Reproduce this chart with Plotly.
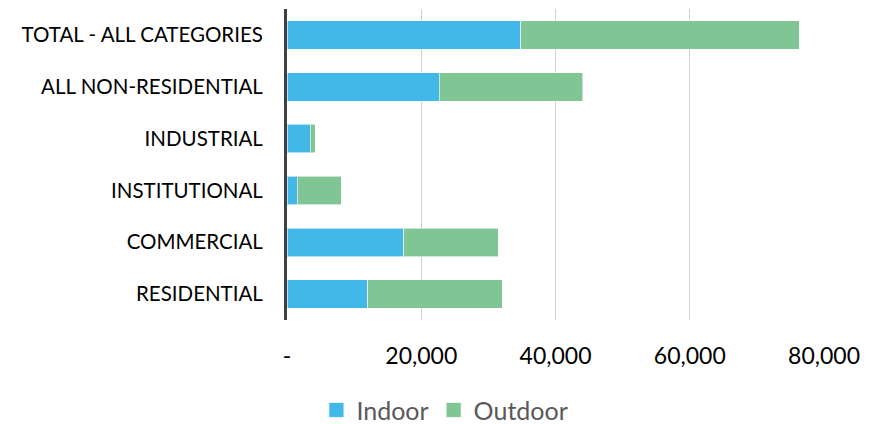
import plotly.graph_objects as go

# Water use by sector, split into indoor and outdoor
categories = [
    "RESIDENTIAL",
    "COMMERCIAL",
    "INSTITUTIONAL",
    "INDUSTRIAL",
    "ALL NON-RESIDENTIAL",
    "TOTAL - ALL CATEGORIES",
]
indoor = [12010, 17380, 1490, 3470, 22680, 34800]
outdoor = [20050, 14090, 6600, 750, 21350, 41500]

tick_values = [0, 20000, 40000, 60000, 80000]
tick_labels = ["-", "20,000", "40,000", "60,000", "80,000"]

FONT = "Lato"
INDOOR_COLOR = "#41b8e8"
OUTDOOR_COLOR = "#80c594"
EDGE = "rgba(255,255,255,0.6)"

fig = go.Figure()
fig.add_trace(go.Bar(
    y=categories, x=indoor, orientation="h", name="Indoor",
    marker=dict(color=INDOOR_COLOR, line=dict(color=EDGE, width=1)),
    showlegend=False,
))
fig.add_trace(go.Bar(
    y=categories, x=outdoor, orientation="h", name="Outdoor",
    marker=dict(color=OUTDOOR_COLOR, line=dict(color=EDGE, width=1)),
    showlegend=False,
))

# Legend entries with larger square swatches
for name, color in [("Indoor", INDOOR_COLOR), ("Outdoor", OUTDOOR_COLOR)]:
    fig.add_trace(go.Scatter(
        x=[None], y=[None], mode="markers", name=name,
        marker=dict(symbol="square", size=15, color=color,
                    line=dict(color="rgba(255,255,255,0.7)", width=1)),
        showlegend=True,
    ))

fig.update_layout(
    barmode="stack",
    bargap=0.45,
    width=881,
    height=424,
    margin=dict(l=287, r=57, t=9, b=104, autoexpand=False),
    paper_bgcolor="white",
    plot_bgcolor="white",
    font=dict(family=FONT, color="#000000"),
    showlegend=True,
    legend=dict(
        orientation="h",
        xref="container", yref="paper",
        x=0.505, y=-0.29,
        xanchor="center", yanchor="middle",
        font=dict(family=FONT, size=25, color="#595959"),
        itemwidth=30,
        traceorder="normal",
        tracegroupgap=0,
    ),
)

fig.update_xaxes(
    range=[0, 80000],
    tickvals=tick_values,
    ticktext=tick_labels,
    showgrid=True,
    gridcolor="#d0d0d0",
    gridwidth=1,
    zeroline=False,
    showline=False,
    ticks="outside",
    ticklen=15,
    tickcolor="rgba(255,255,255,0)",
    tickfont=dict(family=FONT, size=23, color="#000000"),
)

fig.update_yaxes(
    categoryorder="array",
    categoryarray=categories,
    showgrid=False,
    zeroline=False,
    showline=True,
    linecolor="#404040",
    linewidth=3,
    ticks="outside",
    ticklen=17,
    tickcolor="rgba(255,255,255,0)",
    tickfont=dict(family=FONT, size=20.5, color="#000000"),
)

fig.write_html("out.html")
